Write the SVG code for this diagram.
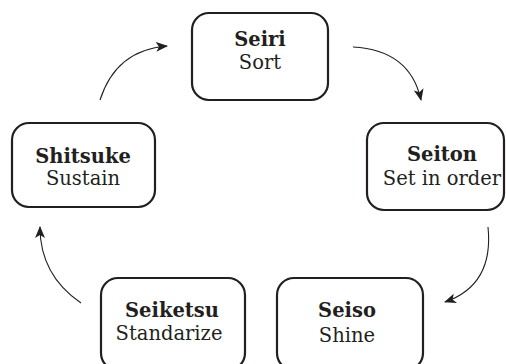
<svg xmlns="http://www.w3.org/2000/svg" width="506" height="364" viewBox="0 0 506 364">
<style>
.box{fill:#fff;stroke:#231f20;stroke-width:2.2}
.t{font-family:"DejaVu Serif","Liberation Serif",serif;font-size:19.5px;fill:#231f20;text-anchor:middle}
.b{font-weight:bold}
.c{fill:none;stroke:#231f20;stroke-width:1.1}
</style>
<defs>
<marker id="ah" viewBox="0 0 12 10" refX="11" refY="5" markerWidth="12" markerHeight="10" markerUnits="userSpaceOnUse" orient="auto">
<path d="M0,0 L12,5 L0,10 L3,5 Z" fill="#231f20"/>
</marker>
</defs>
<rect width="506" height="364" fill="#fff"/>
<g id="connectors">
<path class="c" d="M100,100 Q116,50 167,46" marker-end="url(#ah)"/>
<path class="c" d="M353,47 Q410,50 421,100" marker-end="url(#ah)"/>
<path class="c" d="M488,227 Q494,285 445,302" marker-end="url(#ah)"/>
<path class="c" d="M81,303 Q40,275 40,227" marker-end="url(#ah)"/>
</g>
<g id="seiri">
<rect class="box" x="192" y="13" width="136" height="87" rx="17"/>
<text class="t b" x="260" y="46">Seiri</text>
<text class="t" x="260" y="69">Sort</text>
</g>
<g id="seiton">
<rect class="box" x="367" y="123" width="137" height="87" rx="17"/>
<text class="t b" x="442" y="161">Seiton</text>
<text class="t" x="442" y="185">Set in order</text>
</g>
<g id="seiso">
<rect class="box" x="277" y="278" width="146" height="92" rx="17"/>
<text class="t b" x="347" y="317">Seiso</text>
<text class="t" x="347" y="342">Shine</text>
</g>
<g id="seiketsu">
<rect class="box" x="101" y="278" width="144" height="92" rx="17"/>
<text class="t b" x="172" y="317">Seiketsu</text>
<text class="t" x="169" y="340">Standarize</text>
</g>
<g id="shitsuke">
<rect class="box" x="12" y="123" width="143" height="84" rx="17"/>
<text class="t b" x="83" y="163">Shitsuke</text>
<text class="t" x="83" y="185">Sustain</text>
</g>
</svg>
